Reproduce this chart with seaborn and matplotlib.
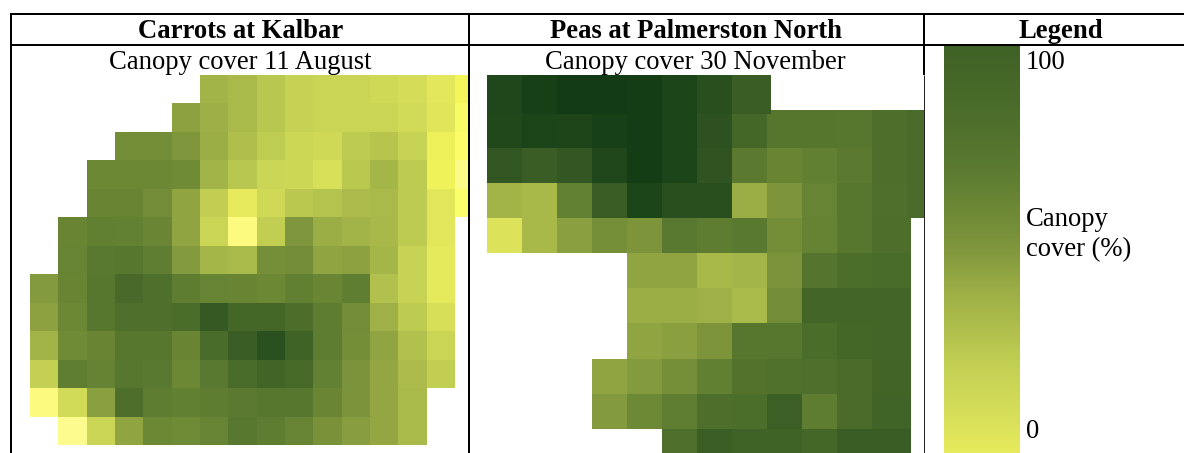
import numpy as np
import pandas as pd
import seaborn as sns
import matplotlib
matplotlib.use("Agg")
import matplotlib.pyplot as plt
from matplotlib.colors import LinearSegmentedColormap, Normalize
from matplotlib.lines import Line2D

n = np.nan
# Carrots at Kalbar: canopy cover (%), values outside 0-100 are off-scale image colours
carrots_r00 = [n,n,n,n,n,n,37,33,26,20,17,17,14,10,2,-6]
carrots_r01 = [n,n,n,n,n,45,39,33,26,20,17,17,17,12,4,-12]
carrots_r02 = [n,n,n,56,56,50,40,30,23,15,14,24,27,19,-3,-14]
carrots_r03 = [n,n,60,60,60,58,37,26,16,15,8,25,35,24,-4,-22]
carrots_r04 = [n,n,62,62,57,44,22,0,14,25,28,32,33,24,3,-15]
carrots_r05 = [n,62,66,65,61,44,17,-20,22,50,40,37,34,24,3,n]
carrots_r06 = [n,63,71,73,67,48,35,33,55,57,44,45,35,19,1,n]
carrots_r07 = [48,62,73,88,80,68,63,62,60,66,61,67,29,19,1,n]
carrots_r08 = [45,60,73,80,80,84,106,93,92,82,68,57,38,24,9,n]
carrots_r09 = [37,58,62,73,73,62,85,103,112,99,68,56,44,29,17,n]
carrots_r10 = [21,67,64,73,71,60,71,85,95,89,65,52,43,32,22,n]
carrots_r11 = [-20,12,46,81,68,66,68,70,73,73,61,52,43,33,n,n]
carrots_r12 = [n,-24,17,44,60,58,63,72,68,63,53,47,43,33,n,n]
carrots_rows = [carrots_r00,carrots_r01,carrots_r02,carrots_r03,carrots_r04,carrots_r05,carrots_r06,
                carrots_r07,carrots_r08,carrots_r09,carrots_r10,carrots_r11,carrots_r12]

# Peas at Palmerston North
peas_r00 = [119,125,130,130,128,122,113,103,n,n,n,n,n]
peas_r01 = [118,122,121,125,128,122,111,92,74,74,73,81,85]
peas_r02 = [108,103,107,119,128,122,109,70,62,66,70,81,85]
peas_r03 = [37,34,65,103,122,113,113,40,51,63,73,80,85]
peas_r04 = [6,34,46,55,51,71,68,71,56,64,73,81,n]
peas_r05 = [n,n,n,n,44,44,34,36,52,75,83,85,n]
peas_r06 = [n,n,n,n,40,40,38,33,57,94,94,94,n]
peas_r07 = [n,n,n,n,44,46,51,73,73,84,92,94,n]
peas_r08 = [n,n,n,44,48,55,66,77,79,80,86,95,n]
peas_r09 = [n,n,n,48,59,67,81,83,101,68,86,97,n]
peas_r10 = [n,n,n,n,n,80,102,98,98,92,103,103,n]
peas_rows = [peas_r00,peas_r01,peas_r02,peas_r03,peas_r04,peas_r05,peas_r06,
             peas_r07,peas_r08,peas_r09,peas_r10]

header_labels = ["Carrots at Kalbar", "Peas at Palmerston North", "Legend"]
sub_labels = ["Canopy cover 11 August", "Canopy cover 30 November"]
legend_ticks = ["100", "0"]
legend_title = ["Canopy", "cover (%)"]

scale_values = [-25,-15,-5,0,10,20,30,40,50,60,70,80,90,100,110,120,130]
scale_colors = ["#fdfa92","#fcfd6a","#f2f458","#e6ea5c","#d5dd58","#c5d254","#b0bf4c","#9bad45",
                "#7f963c","#6c8835","#5b7a30","#4f702c","#466828","#3e6126","#2f5321","#1e461a","#123b15"]
vmin, vmax = scale_values[0], scale_values[-1]
cmap = LinearSegmentedColormap.from_list(
    "canopy", [((v-vmin)/(vmax-vmin), c) for v, c in zip(scale_values, scale_colors)], N=512)

W, H = 1184, 453
fig = plt.figure(figsize=(W/100, H/100), dpi=100, facecolor="white")
plt.rcParams['font.family'] = ['Liberation Serif', 'DejaVu Serif']

def box(x0, y0, x1, y1, z=5, bg="white"):
    ax = fig.add_axes([x0/W, 1-y1/H, (x1-x0)/W, (y1-y0)/H], zorder=z)
    ax.set_facecolor(bg)
    return ax

def panel(ax, rows, xmax, ymax):
    sns.heatmap(pd.DataFrame(rows), ax=ax, cmap=cmap, vmin=vmin, vmax=vmax, cbar=False,
                xticklabels=False, yticklabels=False, linewidths=0)
    ax.set_xlim(0, xmax)
    ax.set_ylim(ymax, 0)
    ax.set_xlabel(""); ax.set_ylabel("")
    ax.tick_params(left=False, bottom=False)
    for s in ax.spines.values():
        s.set_visible(False)

panel(box(30, 75, 468, 445), carrots_rows, (468-30)/28.33, 13)

# white band that hides the subtitle descenders above the peas image, as in the reference
band = box(470, 75, 923, 78, z=5)
band.set_xticks([]); band.set_yticks([])
for s in band.spines.values():
    s.set_visible(False)

ROW_H = 35.17
panel(box(487, 77.3, 924, 453), peas_rows, (924-487)/35.0, (453-77.3)/ROW_H)
# the two halves of the peas image are slightly offset from one another in the reference
panel(box(487, 75, 767, 114, z=6), [peas_r00[:8]], 8, 1)
panel(box(767, 75, 771, 114, z=7), [peas_r00[7:8]], 1, 1)
panel(box(767, 110, 924, 113, z=6), [peas_r01[8:]], (924-767)/35.0, 1)
panel(box(907, 218, 911, 453, z=6), [[r[11]] for r in peas_rows[4:]], 1, (453-218)/ROW_H)

# legend bar: a real colourbar of the same scale, showing only 0-100
cax = box(944, 45, 1019.5, 453)
mappable = plt.cm.ScalarMappable(norm=Normalize(vmin, vmax), cmap=cmap)
cb = fig.colorbar(mappable, cax=cax)
cb.outline.set_visible(False)
cb.set_ticks([])
cax.set_ylim(0, 100)

# table rules
def rule(x0, y0, x1, y1, lw=2.0, color="black"):
    fig.add_artist(Line2D([x0/W, x1/W], [1-y0/H, 1-y1/H], color=color, lw=lw*0.72,
                          zorder=8, solid_capstyle="butt"))
rule(10, 13.5, 1184, 13.5)
rule(11, 44.5, 1184, 44.5)
rule(11, 13, 11, 453)
rule(469, 13, 469, 453)
rule(923.7, 13, 923.7, 75)
rule(923.7, 75, 923.7, 453, lw=1.0, color="#222222")

def label(x, y, s, **kw):
    fig.text(x/W, 1-y/H, s, va="baseline", fontsize=19.2, color="black", zorder=3,
             family=['Liberation Serif', 'DejaVu Serif'], **kw)

for x, s in zip([240.5, 696, 1061], header_labels):
    label(x, 37.7, s, ha="center", fontweight="bold")
for x, s in zip([240.5, 695.5], sub_labels):
    label(x, 69, s, ha="center")
label(1026, 69, legend_ticks[0], ha="left")
label(1026, 438.3, legend_ticks[1], ha="left")
label(1026, 225.5, legend_title[0], ha="left")
label(1026, 255.7, legend_title[1], ha="left")

fig.savefig("out.png", dpi=100)
